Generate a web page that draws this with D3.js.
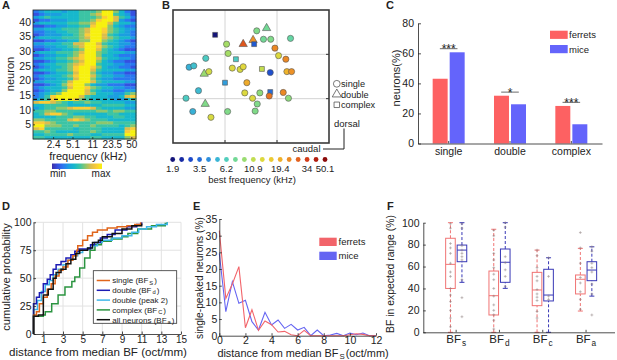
<!DOCTYPE html>
<html>
<head>
<meta charset="utf-8">
<script src="https://cdn.jsdelivr.net/npm/d3@7"></script>
<style>
  body { margin: 0; background: #fff; }
  text { font-family: "Liberation Sans", Arial, Helvetica, sans-serif; fill: #222; }
</style>
</head>
<body>
<div id="chart"></div>
<script>
// ---------------- data ----------------
// A: tuning map, one string per neuron (first = neuron 44), each digit = response level 0..9 per frequency bin
var heatRows = [
  "234443445556996421", "123334445567995431", "345444445556897542", "122333445568997321",
  "344444556679975443", "112233445589964322", "334445556799865433", "223344556799865432",
  "123334456899754332", "344445556799765443", "112233446699654321", "334445577997544332",
  "223344567998654322", "112334456997543211", "344455567996544433", "123344568996443222",
  "334455678997544332", "112344567996432211", "234455678995443322", "123445689986433221",
  "344455689975444433", "112344579964332211", "234445689975443322", "123344579964332222",
  "334445799975444433", "112346899643322211", "234445799865443322", "123446999754332233",
  "234569999764443356", "235899997544433478", "345899986544443345", "788765455655444433",
  "445555444444555544", "345566788875444433", "556655555556656655", "457886544444455444",
  "444455566554445544", "665555787655544444", "887655555556665555", "996665565565555456",
  "785555545555444478", "556544445565444489", "445555655544555599", "554444444455444467"
];
var freqTicks = [2.4, 5.1, 11, 23.5, 50];
var neuronTicks = [5, 10, 15, 20, 25, 30, 35, 40];
var splitNeuron = 13.5;

// B: recording sites (position on the map), best frequency (kHz) and tuning type
var siteX = [0.81, 1.80, 1.61, 1.74, 1.88, 2.26, 1.35, 1.54, 1.56, 1.03, 1.96, 1.06, 2.03, 1.21, 0.63,
             2.17, 0.31, 0.40, 0.60, 0.69, 1.14, 1.29, 1.35, 1.71, 1.87, 2.19, 2.28, 1.00, 1.42, 0.49,
             1.38, 1.67, 1.87, 1.85, 2.12, 0.25, 1.53, 2.22, 0.62, 1.62, 0.38, 1.05, 1.58, 0.73];
var siteY = [2.44, 2.59, 2.53, 2.34, 2.34, 2.36, 2.23, 2.32, 2.23, 2.23, 2.14, 2.02, 1.97, 1.89, 1.91,
             1.89, 1.71, 1.74, 1.56, 1.61, 1.69, 1.66, 1.72, 1.67, 1.59, 1.61, 1.61, 1.36, 1.36, 1.18,
             1.13, 1.13, 1.15, 1.06, 1.14, 1.01, 1.01, 1.01, 0.88, 0.88, 0.71, 0.71, 0.72, 0.58];
var siteBF = [1.9, 7.5, 8, 7.5, 8, 7, 30, 23, 3.2, 9.5, 24, 9.5, 13, 6, 6,
              24, 5, 5.5, 9, 12, 13, 12.5, 13.5, 11, 3, 19, 23, 4.5, 20, 5.3,
              13, 8.5, 3.5, 26, 24, 6, 13, 8.5, 8, 8, 5, 8, 8, 12.5];
var siteType = ["complex", "double", "single", "single", "single", "single", "double", "double", "complex", "single",
                "single", "single", "single", "complex", "single", "single", "single", "single", "double", "single",
                "single", "single", "single", "complex", "single", "single", "single", "complex", "single", "single",
                "single", "single", "complex", "single", "single", "single", "single", "single", "double", "single",
                "single", "single", "single", "single"];
var bfLegend = [1.9, 2.3, 2.9, 3.5, 4.2, 5.1, 6.2, 7.5, 9.0, 10.9, 13.2, 16.0, 19.4, 23.5, 28.5, 34, 41.3, 50.1];
var bfLabels = [1.9, 3.5, 6.2, 10.9, 19.4, 34, 50.1];
var tuningTypes = ["single", "double", "complex"];

// C: share of neurons per tuning type
var peakTypes = ["single", "double", "complex"];
var ferretPct = [43.1, 31.8, 25.0];
var micePct = [60.7, 26.1, 12.8];
var sigStars = ["***", "*", "***"];

// D: cumulative probability vs distance from median BF
var cdfSingle = [[0,0],[0,17],[0.3,20],[0.6,27],[1,33],[1.4,40],[1.8,45],[2.2,52],[2.6,57],[3,60],[3.5,66],[4,70],
                 [4.4,75],[4.5,79],[5,84],[5.5,88],[6,91],[6.5,93],[7.5,95],[8.5,96],[9.5,97],[10.3,98],[10.9,100]];
var cdfDouble = [[0,0],[0,27],[0.3,33],[0.6,37],[1,45],[1.4,49],[1.7,53],[2,58],[2.3,62],[2.8,65],[3.3,68],[3.8,71],
                 [4.2,74],[4.6,76],[5.6,76],[5.8,80],[6.2,82],[6.8,86],[7.5,89],[8.3,93],[9.5,96],[10.5,98],[11,100]];
var cdfPeak2 = [[0,0],[0,22],[0.4,30],[0.8,38],[1.2,44],[1.6,48],[2,53],[2.5,58],[3,62],[3.5,66],[4,70],[4.5,73],
                [5,75],[5.5,77],[6,79],[6.5,82],[7,84],[8,86],[9,88],[10,91],[10.7,94],[11.5,96],[12.5,98],[13.6,100]];
var cdfComplex = [[0,0],[0,16],[1,17],[1.2,20],[1.85,27],[2.5,35],[3.2,42],[3.9,47],[4.2,51],[4.7,59],[5.2,68],
                  [5.75,75],[6.25,80],[6.9,83],[7.9,85],[9,87],[9.6,90],[10.6,94],[12,97],[13.4,99],[13.6,100]];
var cdfAll = [[0,0],[0,16],[0.5,17],[1,35],[1.5,40],[2,50],[2.3,55],[2.8,58],[3.3,63],[3.8,67],[4.3,72],[4.7,75],
              [5.5,77],[6,82],[6.6,84],[7,87],[8,90],[9,94],[10,97],[11,99]];
var distTicks = [1, 3, 5, 7, 9, 11, 13, 15];
var cumTicks = [0, 25, 50, 75, 100];

// E: single-peaked neurons vs distance from median BFs
var distE = [0, 0.5, 1, 1.5, 2, 2.5, 3, 3.5, 4, 4.5, 5, 5.5, 6, 6.5, 7, 7.5, 8, 8.5, 9, 9.5, 10, 10.5, 11, 11.5, 12];
var ferretE = [31.5, 11.2, 15.5, 20.7, 2.4, 7.8, 1.6, 4.4, 3.3, 1.1, 1.3, 0.3, 0, 1.6, 0, 0, 0, 0, 0, 0, 0.3, 0.6, 0.4, 0, 0];
var miceE = [24.7, 7.2, 16.2, 9.7, 10.6, 4.2, 1.7, 7.0, 3.2, 4.7, 2.2, 3.4, 1.7, 2.5, 0, 1.7, 0, 0.2, 0.7, 0, 0.8, 0.3, 0.8, 0, 0];

// F: BF in expected range, box statistics per group [lowWhisker, q1, median, q3, highWhisker]
var bfGroups = ["s", "d", "c", "a"];
var ferretBox = [[0, 40, 62, 85.8, 100], [0, 15.8, 33.4, 55.9, 94], [0, 24.3, 38.6, 54.7, 75], [19.4, 35, 48.4, 52.3, 76.6]];
var miceBox = [[45.6, 64.4, 75, 79.6, 100], [40.1, 45.6, 63.9, 76, 100], [0, 28.6, 34, 57.5, 68], [33, 47.1, 56.8, 64.4, 78]];
var ferretPts = [[99, 95, 81, 77, 72, 63, 55, 51, 40, 34, 28, 20, 13, 5],
                 [93, 88, 72, 66, 59, 53, 48, 40, 33, 25, 20, 16, 11, 3],
                 [75, 70, 59, 51, 47, 39, 35, 32, 29, 19, 13],
                 [91, 77, 63, 50, 45, 37, 30, 21]];
var micePts = [[99, 95, 79, 75, 72, 69, 66, 48, 31.6, 14.2],
               [100, 96, 69, 63.5, 57, 51, 42],
               [68, 51, 33, 30],
               [78, 74, 63, 59, 55, 44, 35, 15.8]];

// ---------------- drawing ----------------
var svg = d3.select("#chart").append("svg").attr("width", 617).attr("height", 360);
var ink = "#222";

function styleAxis(g, size) {
  g.selectAll("path.domain").attr("stroke", ink).attr("stroke-width", 0.8);
  g.selectAll(".tick line").attr("stroke", ink).attr("stroke-width", 0.8);
  g.selectAll(".tick text").style("font-size", size + "px").attr("fill", ink);
  g.attr("font-family", null);
}
function vlabel(txt, x, y, size) {
  return svg.append("text").attr("transform", "translate(" + x + "," + y + ") rotate(-90)")
    .attr("text-anchor", "middle").style("font-size", size + "px").text(txt);
}
function panelLetter(t, x, y) {
  svg.append("text").attr("x", x).attr("y", y).style("font-size", "11px").style("font-weight", "bold").text(t);
}
// text with a subscript, built from separate text pieces laid side by side
function subText(parent, x, y, anchor, size, main, sub, tail, drop) {
  var g = parent.append("g");
  var cur = 0;
  [[main, size, 0], [sub, size * 0.72, drop], [tail, size, 0]].forEach(function (p, k) {
    if (!p[0]) return;
    if (k > 0) cur += 1;
    var t = g.append("text").attr("x", cur).attr("y", p[2]).style("font-size", p[1] + "px").text(p[0]);
    cur += t.node().getComputedTextLength();
  });
  var shift = anchor === "middle" ? -cur / 2 : 0;
  g.attr("transform", "translate(" + (x + shift) + "," + y + ")");
  return g;
}

// ----- A -----
var heatColors = ["#3d2fa8", "#3550e0", "#2a78f0", "#1b9ee0", "#17b8cc", "#3cc4a4", "#8cc76e", "#dcbd4c", "#fbcd36", "#f7f10f"];
var heat = d3.scaleLinear().domain(d3.range(heatColors.length)).range(heatColors);
var aCol = d3.scaleBand().domain(d3.range(heatRows[0].length)).range([33, 136]);
var aFreq = d3.scaleLog().domain([1.1, 60]).range([33, 136]);
var aY = d3.scaleLinear().domain([0, heatRows.length]).range([139, 10]);
var gA = svg.append("g");
heatRows.forEach(function (row, i) {
  var n = heatRows.length - i;
  gA.selectAll(null).data(row.split("")).enter().append("rect")
    .attr("x", function (d, j) { return aCol(j); })
    .attr("y", aY(n))
    .attr("width", aCol.bandwidth() + 0.4)
    .attr("height", aY(n - 1) - aY(n) + 0.4)
    .attr("fill", function (d) { return heat(+d); });
});
gA.append("line").attr("x1", 33).attr("x2", 136).attr("y1", aY(splitNeuron)).attr("y2", aY(splitNeuron))
  .attr("stroke", "#111").attr("stroke-width", 1.4).attr("stroke-dasharray", "4,3");
gA.append("rect").attr("x", 33).attr("y", 10).attr("width", 103).attr("height", 129)
  .attr("fill", "none").attr("stroke", ink).attr("stroke-width", 0.8);
var aAxY = svg.append("g").attr("transform", "translate(33,0)")
  .call(d3.axisLeft(aY).tickValues(neuronTicks).tickSizeInner(-2).tickSizeOuter(0).tickPadding(2));
aAxY.select(".domain").remove();
styleAxis(aAxY, 10.5);
var aAxX = svg.append("g").attr("transform", "translate(0,139)")
  .call(d3.axisBottom(aFreq).tickValues(freqTicks).tickFormat(function (d) { return String(d); })
    .tickSizeInner(-2).tickSizeOuter(0).tickPadding(1.5));
aAxX.select(".domain").remove();
styleAxis(aAxX, 10);
vlabel("neuron", 14, 74, 11);
svg.append("text").attr("x", 88).attr("y", 159.8).attr("text-anchor", "middle").style("font-size", "11px").text("frequency (kHz)");
var grad = svg.append("defs").append("linearGradient").attr("id", "parula");
heatColors.forEach(function (c, i) {
  grad.append("stop").attr("offset", (i / (heatColors.length - 1) * 100) + "%").attr("stop-color", c);
});
svg.append("rect").attr("x", 52).attr("y", 163.5).attr("width", 50).attr("height", 5.5).attr("fill", "url(#parula)");
svg.append("text").attr("x", 58).attr("y", 177).attr("text-anchor", "middle").style("font-size", "10px").text("min");
svg.append("text").attr("x", 101).attr("y", 177).attr("text-anchor", "middle").style("font-size", "10px").text("max");
panelLetter("A", 2, 9);

// ----- B -----
var jet = d3.interpolateRgbBasis(["#14147a", "#1a3ccc", "#2a80e0", "#3ccfd8", "#80dc80", "#d8e040",
                                 "#f2cc30", "#ee8a24", "#d83018", "#8a0a0a"]);
var bfColor = d3.scaleSequentialLog(jet).domain([1.9, 50.1]);
var bX = d3.scaleLinear().domain([0, 3]).range([173, 329]);
var bY = d3.scaleLinear().domain([0, 3]).range([143, 10]);
var gB = svg.append("g");
[1, 2].forEach(function (v) {
  gB.append("line").attr("x1", bX(v)).attr("x2", bX(v)).attr("y1", bY(0)).attr("y2", bY(3)).attr("stroke", "#d4d4d4").attr("stroke-width", 1);
  gB.append("line").attr("x1", bX(0)).attr("x2", bX(3)).attr("y1", bY(v)).attr("y2", bY(v)).attr("stroke", "#d4d4d4").attr("stroke-width", 1);
  gB.append("line").attr("x1", bX(3) - 3).attr("x2", bX(3)).attr("y1", bY(v)).attr("y2", bY(v)).attr("stroke", "#333");
  gB.append("line").attr("x1", bX(v)).attr("x2", bX(v)).attr("y1", bY(0) - 3).attr("y2", bY(0)).attr("stroke", "#333");
});
gB.append("rect").attr("x", bX(0)).attr("y", bY(3)).attr("width", bX(3) - bX(0)).attr("height", bY(0) - bY(3))
  .attr("fill", "none").attr("stroke", "#3a3a3a").attr("stroke-width", 1.6);
var shapeOf = { single: d3.symbolCircle, double: d3.symbolTriangle, complex: d3.symbolSquare };
var sizeOf = { single: 30, double: 30, complex: 24 };
gB.selectAll("path.site").data(siteX).enter().append("path")
  .attr("class", "site")
  .attr("transform", function (d, i) { return "translate(" + bX(d) + "," + bY(siteY[i]) + ")"; })
  .attr("d", function (d, i) { return d3.symbol().type(shapeOf[siteType[i]]).size(sizeOf[siteType[i]])(); })
  .attr("fill", function (d, i) { return bfColor(siteBF[i]); })
  .attr("stroke", "#555").attr("stroke-width", 0.6);
tuningTypes.forEach(function (t, i) {
  var y = 83.8 + i * 10.5;
  svg.append("path").attr("transform", "translate(336.8," + y + ")")
    .attr("d", d3.symbol().type(shapeOf[t]).size(t === "complex" ? 30 : 36)())
    .attr("fill", "none").attr("stroke", "#555").attr("stroke-width", 0.8);
  svg.append("text").attr("x", 341).attr("y", y + 3.2).style("font-size", "9.2px").text(t);
});
svg.append("text").attr("x", 334).attr("y", 126.5).style("font-size", "9.5px").text("dorsal");
svg.append("text").attr("x", 320.5).attr("y", 151.5).attr("text-anchor", "end").style("font-size", "9.5px").text("caudal");
svg.append("path").attr("d", "M344,128.5V149H323").attr("fill", "none").attr("stroke", "#222").attr("stroke-width", 1);
var legX = d3.scalePoint().domain(d3.range(bfLegend.length)).range([172.7, 325]);
svg.selectAll("circle.bfleg").data(bfLegend).enter().append("circle")
  .attr("class", "bfleg").attr("cx", function (d, i) { return legX(i); }).attr("cy", 159.5).attr("r", 2.4)
  .attr("fill", function (d) { return bfColor(d); });
svg.selectAll("text.bflab").data(bfLabels).enter().append("text")
  .attr("class", "bflab").attr("x", function (d) { return legX(bfLegend.indexOf(d)); }).attr("y", 171.5)
  .attr("text-anchor", "middle").style("font-size", "9.5px").text(function (d) { return d; });
svg.append("text").attr("x", 252).attr("y", 182.8).attr("text-anchor", "middle").style("font-size", "9.5px").text("best frequency (kHz)");
panelLetter("B", 162, 9);

// ----- C -----
var cX = d3.scaleBand().domain(peakTypes).range([418, 602]);
var cSub = d3.scaleBand().domain(["ferrets", "mice"]).range([-16, 16]).paddingInner(0.12);
var cY = d3.scaleLinear().domain([0, 80]).range([143.5, 23.3]);
var speciesColor = { ferrets: "#fd6162", mice: "#6464fb" };
var gC = svg.append("g");
peakTypes.forEach(function (p, i) {
  var cx = cX(p) + cX.bandwidth() / 2;
  [["ferrets", ferretPct[i]], ["mice", micePct[i]]].forEach(function (s) {
    gC.append("rect").attr("x", cx + cSub(s[0])).attr("width", cSub.bandwidth())
      .attr("y", cY(s[1])).attr("height", cY(0) - cY(s[1])).attr("fill", speciesColor[s[0]]);
  });
  var top = Math.max(ferretPct[i], micePct[i]) + 2.4;
  gC.append("line").attr("x1", cx - 8.8).attr("x2", cx + 8.8).attr("y1", cY(top)).attr("y2", cY(top))
    .attr("stroke", "#444").attr("stroke-width", 0.8);
  gC.append("text").attr("x", cx).attr("y", cY(top) + 4.5).attr("text-anchor", "middle").style("font-size", "12px").text(sigStars[i]);
});
var cAxY = svg.append("g").attr("transform", "translate(418,0)")
  .call(d3.axisLeft(cY).tickValues([0, 20, 40, 60, 80]).tickSizeInner(-3).tickSizeOuter(0).tickPadding(4));
styleAxis(cAxY, 10.5);
var cAxX = svg.append("g").attr("transform", "translate(0,143.5)")
  .call(d3.axisBottom(cX).tickSizeInner(-2.5).tickSizeOuter(0).tickPadding(4));
styleAxis(cAxX, 10.5);
vlabel("neurons(%)", 399.5, 78, 11);
["ferrets", "mice"].forEach(function (s, i) {
  svg.append("rect").attr("x", 550).attr("y", 30.7 + i * 14.3).attr("width", 17.7).attr("height", 8.2).attr("fill", speciesColor[s]);
  svg.append("text").attr("x", 569).attr("y", 38.2 + i * 14.3).style("font-size", "9.5px").text(s);
});
panelLetter("C", 386, 9);

// ----- D -----
var dX = d3.scaleLinear().domain([0, 15]).range([33.5, 181]);
var dY = d3.scaleLinear().domain([0, 100]).range([334, 222.3]);
var gD = svg.append("g");
distTicks.forEach(function (v) {
  gD.append("line").attr("x1", dX(v)).attr("x2", dX(v)).attr("y1", dY(0)).attr("y2", dY(100)).attr("stroke", "#e2e2e2");
});
cumTicks.slice(1).forEach(function (v) {
  gD.append("line").attr("x1", dX(0)).attr("x2", dX(15)).attr("y1", dY(v)).attr("y2", dY(v)).attr("stroke", "#e2e2e2");
});
var cdfLine = d3.line().x(function (d) { return dX(d[0]); }).y(function (d) { return dY(d[1]); }).curve(d3.curveStepAfter);
var cdfSeries = [
  { data: cdfComplex, color: "#2b9440", name: "complex (BF", sub: "C" },
  { data: cdfPeak2, color: "#3fb7ea", name: "double (peak 2)", sub: "" },
  { data: cdfDouble, color: "#1c1cb4", name: "double (BF", sub: "d" },
  { data: cdfSingle, color: "#e0651b", name: "single (BF", sub: "S" },
  { data: cdfAll, color: "#111111", name: "all neurons (BF", sub: "a" }
];
cdfSeries.forEach(function (s) {
  gD.append("path").attr("d", cdfLine(s.data)).attr("fill", "none").attr("stroke", s.color).attr("stroke-width", 1.5);
});
var dAxY = svg.append("g").attr("transform", "translate(33.5,0)")
  .call(d3.axisLeft(dY).tickValues(cumTicks).tickSizeInner(-2.5).tickSizeOuter(0).tickPadding(2));
styleAxis(dAxY, 10.5);
var dAxX = svg.append("g").attr("transform", "translate(0,334)")
  .call(d3.axisBottom(dX).tickValues(distTicks).tickSizeInner(-2.5).tickSizeOuter(0).tickPadding(1.5));
styleAxis(dAxX, 10);
vlabel("cumulative probability", 9.5, 277, 11.2);
svg.append("text").attr("x", 98).attr("y", 355.5).attr("text-anchor", "middle").style("font-size", "11.6px").text("distance from median BF (oct/mm)");
gD.append("rect").attr("x", 93.3).attr("y", 270.7).attr("width", 83.4).attr("height", 52.6)
  .attr("fill", "#fff").attr("stroke", "#333").attr("stroke-width", 0.8);
var legOrder = [3, 2, 1, 0, 4];
legOrder.forEach(function (k, i) {
  var s = cdfSeries[k], y = 280.5 + i * 9.8;
  gD.append("line").attr("x1", 96.7).attr("x2", 110).attr("y1", y).attr("y2", y).attr("stroke", s.color).attr("stroke-width", 1.5);
  if (s.sub) subText(gD, 112.3, y + 2.8, "start", 8, s.name, s.sub, ")", 1.3);
  else gD.append("text").attr("x", 112.3).attr("y", y + 2.8).style("font-size", "8px").text(s.name);
});
panelLetter("D", 2, 210);

// ----- E -----
var eX = d3.scaleLinear().domain([0, 12]).range([219.3, 376]);
var eY = d3.scaleLinear().domain([0, 35]).range([335.7, 219]);
var eLine = d3.line().x(function (d, i) { return eX(distE[i]); }).y(function (d) { return eY(d); });
svg.append("path").attr("d", eLine(miceE)).attr("fill", "none").attr("stroke", "#6565f2").attr("stroke-width", 1.1);
svg.append("path").attr("d", eLine(ferretE)).attr("fill", "none").attr("stroke", "#f2646a").attr("stroke-width", 1.1);
var eAxY = svg.append("g").attr("transform", "translate(219.3,0)")
  .call(d3.axisLeft(eY).tickValues([0, 5, 10, 15, 20, 25, 30, 35]).tickSizeInner(-2.5).tickSizeOuter(0).tickPadding(2));
styleAxis(eAxY, 10.5);
var eAxX = svg.append("g").attr("transform", "translate(0,335.7)")
  .call(d3.axisBottom(eX).tickValues([0, 2, 4, 6, 8, 10, 12]).tickSizeInner(-2.5).tickSizeOuter(0).tickPadding(1));
styleAxis(eAxX, 10.5);
vlabel("single-peaked neurons (%)", 203, 278, 10.2);
subText(svg, 303, 356.8, "middle", 10.9, "distance from median BF", "S", "(oct/mm)", 2.4);
["ferrets", "mice"].forEach(function (s, i) {
  svg.append("rect").attr("x", 319.3).attr("y", 237.7 + i * 14).attr("width", 17.4).attr("height", 8.3)
    .attr("fill", s === "ferrets" ? "#f2646a" : "#6565f2");
  svg.append("text").attr("x", 338.5).attr("y", 245.3 + i * 14).style("font-size", "9.5px").text(s);
});
panelLetter("E", 193, 210);

// ----- F -----
var fX = d3.scaleBand().domain(bfGroups).range([434.5, 607.7]);
var fY = d3.scaleLinear().domain([0, 100]).range([332.3, 222.7]);
var fColors = { ferrets: "#f07474", mice: "#3838b6" };
var gF = svg.append("g");
function drawBox(cx, st, pts, color) {
  var hw = 4.8;
  gF.append("line").attr("x1", cx).attr("x2", cx).attr("y1", fY(st[0])).attr("y2", fY(st[1]))
    .attr("stroke", color).attr("stroke-dasharray", "3,2");
  gF.append("line").attr("x1", cx).attr("x2", cx).attr("y1", fY(st[3])).attr("y2", fY(st[4]))
    .attr("stroke", color).attr("stroke-dasharray", "3,2");
  [st[0], st[4]].forEach(function (v) {
    gF.append("line").attr("x1", cx - 2.5).attr("x2", cx + 2.5).attr("y1", fY(v)).attr("y2", fY(v)).attr("stroke", color);
  });
  gF.append("rect").attr("x", cx - hw).attr("width", hw * 2).attr("y", fY(st[3])).attr("height", fY(st[1]) - fY(st[3]))
    .attr("fill", "none").attr("stroke", color).attr("stroke-width", 1);
  gF.append("line").attr("x1", cx - hw).attr("x2", cx + hw).attr("y1", fY(st[2])).attr("y2", fY(st[2])).attr("stroke", color);
  gF.selectAll(null).data(pts).enter().append("path")
    .attr("d", function (v) { var y = fY(v); return "M" + (cx - 1.4) + "," + y + "H" + (cx + 1.4) + "M" + cx + "," + (y - 1.4) + "V" + (y + 1.4); })
    .attr("stroke", "#8a7a7a").attr("stroke-width", 0.6).attr("opacity", 0.8);
}
bfGroups.forEach(function (g, i) {
  var c = fX(g) + fX.bandwidth() / 2;
  drawBox(c - 5.7, ferretBox[i], ferretPts[i], fColors.ferrets);
  drawBox(c + 5.8, miceBox[i], micePts[i], fColors.mice);
});
var fAxY = svg.append("g").attr("transform", "translate(423.3,0)")
  .call(d3.axisLeft(fY).tickValues([0, 20, 40, 60, 80, 100]).tickSizeInner(-2.5).tickSizeOuter(0).tickPadding(3.8));
styleAxis(fAxY, 10.5);
var fAxX = svg.append("g").attr("transform", "translate(0,332.3)")
  .call(d3.axisBottom(fX).tickSizeInner(-2.5).tickSizeOuter(0).tickFormat(""));
styleAxis(fAxX, 10.5);
fAxX.select(".domain").attr("d", "M423.3,0.5H615");
bfGroups.forEach(function (g) {
  subText(svg, fX(g) + fX.bandwidth() / 2, 343.3, "middle", 11.5, "BF", g, "", 2.6);
});
vlabel("BF in expected range (%)", 394, 274, 10.4);
panelLetter("F", 387, 210);
</script>
</body>
</html>
